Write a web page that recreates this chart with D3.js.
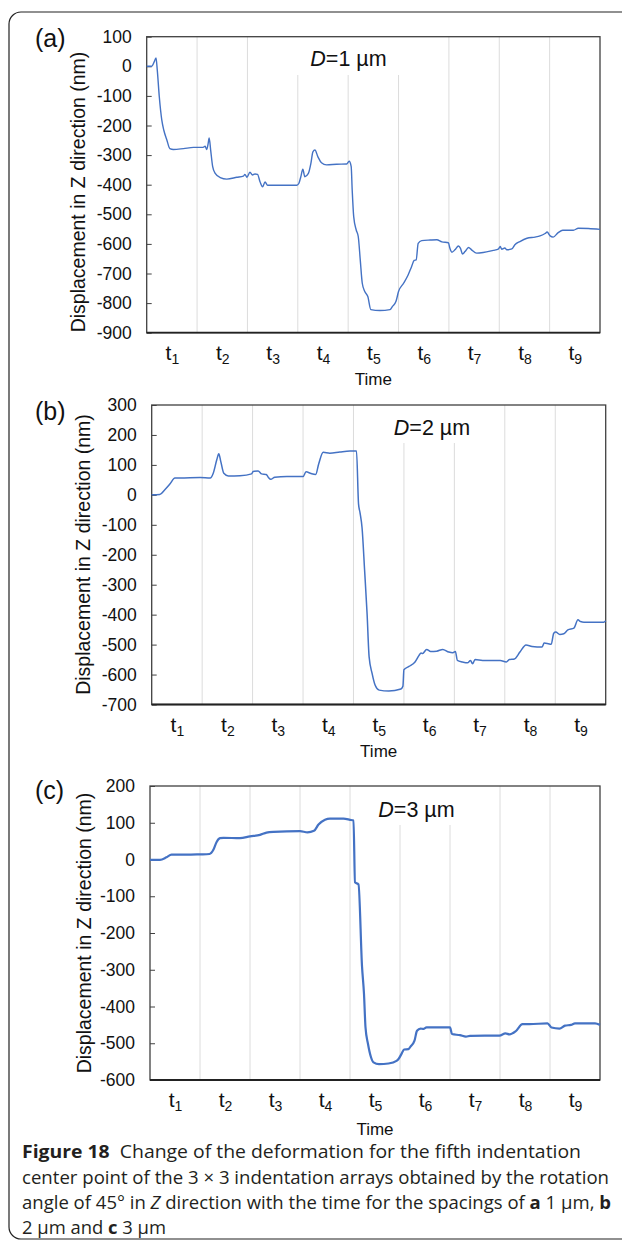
<!DOCTYPE html>
<html>
<head>
<meta charset="utf-8">
<script src="https://cdn.jsdelivr.net/npm/d3@7"></script>
<style>
  body { margin: 0; background: #fff; }
  svg { display: block; font-family: Arial, "Liberation Sans", sans-serif; }
</style>
</head>
<body>
<script>
// time is in units of one interval: t1 covers 0..1, t2 covers 1..2 ... t9 covers 8..9
const timeLabels = ["1", "2", "3", "4", "5", "6", "7", "8", "9"];

// (a) D = 1 um
const tA = [0, 0.10, 0.146, 0.185, 0.21, 0.25, 0.30, 0.34, 0.40, 0.46,
  0.53, 0.73, 0.93, 1.12, 1.16, 1.19, 1.22, 1.24, 1.27, 1.31,
  1.36, 1.46, 1.59, 1.79, 1.92, 1.95, 1.99, 2.05, 2.10, 2.15,
  2.20, 2.25, 2.30, 2.35, 2.40, 2.51, 2.98, 3.02, 3.06, 3.10,
  3.14, 3.21, 3.26, 3.30, 3.34, 3.40, 3.47, 3.57, 3.77, 3.97,
  4.02, 4.06, 4.08, 4.11, 4.16, 4.20, 4.24, 4.28, 4.33, 4.39,
  4.45, 4.63, 4.83, 4.88, 4.95, 5.00, 5.10, 5.19, 5.26, 5.31,
  5.35, 5.39, 5.46, 5.63, 5.76, 5.86, 5.99, 6.02, 6.06, 6.12,
  6.19, 6.23, 6.27, 6.32, 6.39, 6.45, 6.55, 6.68, 6.88, 6.98,
  7.02, 7.05, 7.11, 7.15, 7.25, 7.31, 7.41, 7.55, 7.71, 7.81,
  7.91, 7.95, 8.01, 8.07, 8.17, 8.26, 8.47, 8.57, 8.77, 9.00];
const zA = [0, 0, 14, 28, -13, -103, -182, -216, -249, -278,
  -281, -278, -274, -274, -270, -281, -261, -242, -283, -339,
  -362, -376, -381, -375, -371, -365, -375, -358, -367, -364,
  -365, -390, -407, -391, -402, -402, -402, -396, -373, -348,
  -373, -362, -328, -289, -283, -306, -326, -333, -331, -330,
  -321, -339, -418, -508, -553, -575, -654, -733, -761, -778,
  -822, -825, -822, -811, -794, -761, -733, -705, -676, -656,
  -654, -598, -589, -587, -586, -593, -596, -615, -628, -620,
  -607, -615, -634, -626, -612, -620, -631, -629, -622, -618,
  -609, -618, -614, -620, -617, -603, -592, -581, -577, -573,
  -565, -560, -573, -577, -562, -554, -554, -547, -548, -551];
const ticksA = [100, 0, -100, -200, -300, -400, -500, -600, -700, -800, -900];

// (b) D = 2 um
const tB = [0, 0.16, 0.26, 0.36, 0.46, 0.56, 0.96, 1.16, 1.22, 1.29,
  1.33, 1.37, 1.43, 1.52, 1.75, 1.98, 2.01, 2.11, 2.18, 2.27,
  2.31, 2.36, 2.44, 2.68, 3.00, 3.06, 3.16, 3.25, 3.31, 3.40,
  3.53, 3.73, 3.93, 4.06, 4.10, 4.13, 4.17, 4.22, 4.27, 4.31,
  4.37, 4.43, 4.51, 4.70, 4.94, 4.98, 5.00, 5.10, 5.22, 5.30,
  5.34, 5.37, 5.45, 5.53, 5.65, 5.77, 5.89, 5.97, 6.02, 6.06,
  6.16, 6.26, 6.32, 6.36, 6.41, 6.56, 6.91, 7.03, 7.09, 7.19,
  7.30, 7.42, 7.54, 7.74, 7.78, 7.86, 7.92, 7.97, 8.01, 8.09,
  8.17, 8.25, 8.37, 8.45, 8.50, 8.57, 8.96, 9.00];
const zB = [0, 1, 17, 36, 56, 56, 58, 56, 72, 117,
  137, 111, 72, 63, 64, 70, 78, 80, 70, 68,
  59, 52, 59, 61, 61, 77, 71, 68, 103, 142,
  139, 143, 146, 146, -30, -60, -110, -250, -398, -541,
  -597, -636, -652, -655, -648, -639, -584, -573, -558, -536,
  -528, -530, -516, -523, -522, -516, -525, -527, -523, -553,
  -558, -561, -553, -564, -550, -553, -553, -558, -550, -548,
  -525, -501, -506, -508, -495, -497, -499, -462, -458, -466,
  -464, -451, -445, -417, -423, -425, -425, -420];
const ticksB = [300, 200, 100, 0, -100, -200, -300, -400, -500, -600, -700];

// (c) D = 3 um
const tC = [0, 0.20, 0.33, 0.43, 0.73, 1.00, 1.19, 1.27, 1.33, 1.40,
  1.47, 1.80, 2.00, 2.20, 2.33, 2.47, 3.00, 3.15, 3.28, 3.37,
  3.50, 3.60, 3.87, 4.00, 4.07, 4.10, 4.17, 4.24, 4.28, 4.31,
  4.36, 4.42, 4.47, 4.58, 4.77, 4.93, 4.97, 5.03, 5.08, 5.17,
  5.21, 5.29, 5.34, 5.41, 5.47, 5.53, 6.00, 6.04, 6.20, 6.32,
  6.40, 6.99, 7.11, 7.19, 7.31, 7.45, 7.59, 7.95, 8.03, 8.19,
  8.30, 8.42, 8.50, 8.90, 9.00];
const zC = [-1, -1, 6, 13, 13, 14, 15, 27, 47, 58,
  59, 58, 63, 67, 73, 75, 77, 74, 78, 95,
  108, 111, 111, 108, 106, -62, -68, -290, -366, -457,
  -502, -538, -552, -557, -555, -548, -543, -529, -517, -516,
  -509, -493, -466, -460, -461, -457, -457, -475, -478, -482,
  -480, -479, -473, -476, -468, -448, -448, -446, -457, -460,
  -452, -450, -446, -446, -450];
const ticksC = [200, 100, 0, -100, -200, -300, -400, -500, -600];

const W = 622, H = 1257;
const blue = "#4472c4";
const arial = "Arial, 'Liberation Sans', sans-serif";

const svg = d3.select("body").append("svg")
  .attr("width", W)
  .attr("height", H);

// outer rounded frame of the figure
svg.append("rect")
  .attr("x", 9).attr("y", 12)
  .attr("width", 650).attr("height", 1227)
  .attr("rx", 12)
  .attr("fill", "none")
  .attr("stroke", "#222")
  .attr("stroke-width", 1.2);

function drawPanel(p) {
  const x = d3.scaleLinear().domain([0, 9]).range([p.left, p.right]);
  const y = d3.scaleLinear()
    .domain([p.ticks[p.ticks.length - 1], p.ticks[0]])
    .range([p.bottom, p.top]);
  const g = svg.append("g");

  // vertical gridlines between the time intervals
  g.selectAll("line.grid")
    .data(d3.range(1, 9))
    .join("line")
    .attr("class", "grid")
    .attr("x1", d => x(d)).attr("x2", d => x(d))
    .attr("y1", p.top).attr("y2", p.bottom)
    .attr("stroke", "#dcdcdc")
    .attr("stroke-width", 1);

  // white box behind the spacing label
  g.append("rect")
    .attr("x", p.box[0]).attr("y", p.top)
    .attr("width", p.box[1] - p.box[0])
    .attr("height", p.box[2] - p.top)
    .attr("fill", "#fff");

  // y axis with inward ticks, plain hyphen minus like the original
  const ya = g.append("g")
    .attr("transform", "translate(" + p.left + ",0)")
    .call(d3.axisLeft(y).tickValues(p.ticks).tickFormat(d => String(d))
      .tickSizeInner(-5).tickSizeOuter(0).tickPadding(15));
  ya.select(".domain").remove();
  ya.selectAll("line").attr("stroke", "#404040");
  ya.selectAll("text")
    .attr("font-size", 17.5)
    .attr("font-family", arial)
    .attr("fill", "#111");

  // x axis: t labels in the middle of each interval
  const xa = g.append("g")
    .attr("transform", "translate(0," + p.bottom + ")")
    .call(d3.axisBottom(x).tickValues(d3.range(0.5, 9, 1)).tickSize(0).tickFormat(""));
  xa.select(".domain").remove();
  xa.selectAll(".tick text").remove();
  xa.selectAll(".tick").append("text")
    .attr("y", 27)
    .attr("fill", "#111")
    .attr("text-anchor", "middle")
    .attr("font-size", 21)
    .attr("font-family", arial)
    .each(function(d, i) {
      const t = d3.select(this);
      t.append("tspan").text("t");
      t.append("tspan").attr("font-size", 14).attr("dy", 4).text(timeLabels[i]);
    });

  // plot frame
  g.append("rect")
    .attr("x", p.left).attr("y", p.top)
    .attr("width", p.right - p.left).attr("height", p.bottom - p.top)
    .attr("fill", "none")
    .attr("stroke", "#404040")
    .attr("stroke-width", 1.3);
  g.append("line")
    .attr("x1", p.left).attr("x2", p.right)
    .attr("y1", p.bottom).attr("y2", p.bottom)
    .attr("stroke", "#222")
    .attr("stroke-width", 1.8);

  // the displacement curve
  const line = d3.line()
    .x(i => x(p.t[i]))
    .y(i => y(p.z[i]))
    .curve(d3.curveMonotoneX);
  g.append("path")
    .datum(d3.range(p.t.length))
    .attr("d", line)
    .attr("fill", "none")
    .attr("stroke", blue)
    .attr("stroke-width", p.sw)
    .attr("stroke-linejoin", "round");

  // texts
  g.append("text")
    .attr("x", p.labelX).attr("y", p.labelY)
    .attr("text-anchor", "middle")
    .attr("font-size", 21.5)
    .attr("fill", "#111")
    .call(t => {
      t.append("tspan").attr("font-style", "italic").text("D");
      t.append("tspan").text("=" + p.spacing + " µm");
    });

  g.append("text")
    .attr("x", 35).attr("y", p.letterY)
    .attr("font-size", 25)
    .attr("fill", "#111")
    .text(p.letter);

  g.append("text")
    .attr("transform", "translate(" + p.titleX + "," + p.titleY + ") rotate(-90)")
    .attr("text-anchor", "middle")
    .attr("font-size", 19.5)
    .attr("fill", "#111")
    .text("Displacement in Z direction (nm)");

  g.append("text")
    .attr("x", (p.left + p.right) / 2).attr("y", p.bottom + p.timeDy)
    .attr("text-anchor", "middle")
    .attr("font-size", 17)
    .attr("fill", "#111")
    .text("Time");
}

drawPanel({t: tA, z: zA, ticks: ticksA, left: 146.7, right: 600, top: 36.7, bottom: 332.7,
  box: [292, 405, 75], labelX: 348.5, labelY: 66, spacing: "1", letter: "(a)", letterY: 47,
  titleX: 85, titleY: 192, timeDy: 52, sw: 1.4});
drawPanel({t: tB, z: zB, ticks: ticksB, left: 151.7, right: 605.7, top: 405, bottom: 704.5,
  box: [376, 490, 443], labelX: 432, labelY: 435, spacing: "2", letter: "(b)", letterY: 420,
  titleX: 90, titleY: 554.5, timeDy: 52.5, sw: 1.5});
drawPanel({t: tC, z: zC, ticks: ticksC, left: 150, right: 600, top: 786, bottom: 1080,
  box: [362, 472, 825], labelX: 416.5, labelY: 817, spacing: "3", letter: "(c)", letterY: 799,
  titleX: 91, titleY: 933, timeDy: 55, sw: 2.2});

// caption
const cap = svg.append("g")
  .attr("font-family", "'Open Sans', 'Noto Sans', sans-serif")
  .attr("font-size", 17.5)
  .attr("fill", "#231f20");
const capLines = [
  {y: 1158, w: 559, parts: [["Figure 18", "bold"], ["  Change of the deformation for the fifth indentation", ""]]},
  {y: 1184, w: 587, parts: [["center point of the 3 × 3 indentation arrays obtained by the rotation", ""]]},
  {y: 1209, w: 589, parts: [["angle of 45° in ", ""], ["Z", "italic"], [" direction with the time for the spacings of ", ""],
    ["a", "bold"], [" 1 µm, ", ""], ["b", "bold"]]},
  {y: 1234, w: 144, parts: [["2 µm and ", ""], ["c", "bold"], [" 3 µm", ""]]}
];
capLines.forEach(l => {
  const t = cap.append("text")
    .attr("x", 22).attr("y", l.y)
    .style("white-space", "pre")
    .attr("textLength", l.w)
    .attr("lengthAdjust", "spacingAndGlyphs");
  l.parts.forEach(pt => {
    const s = t.append("tspan").text(pt[0]);
    if (pt[1] === "bold") s.attr("font-weight", "bold");
    if (pt[1] === "italic") s.attr("font-style", "italic");
  });
});
</script>
</body>
</html>
